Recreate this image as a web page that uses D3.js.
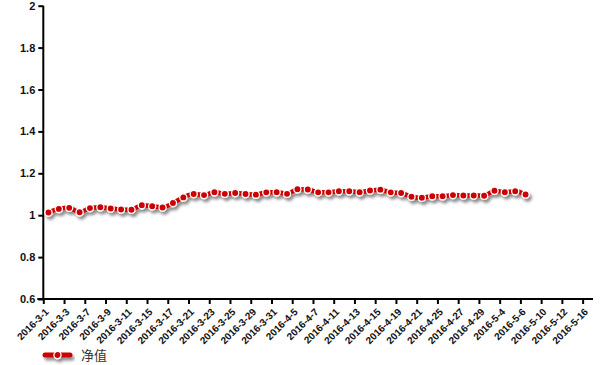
<!DOCTYPE html>
<html>
<head>
<meta charset="utf-8">
<script src="https://cdn.jsdelivr.net/npm/d3@7"></script>
<style>
  body { margin: 0; background: #fff; }
  .axis text { font-family: "Liberation Sans", Arial, sans-serif; font-weight: bold; fill: #111; }
</style>
</head>
<body>
<div class="chart-area"></div>
<script>
// trading days shown on the category axis
let dates = ["2016-3-1","2016-3-2","2016-3-3","2016-3-4","2016-3-7","2016-3-8","2016-3-9","2016-3-10","2016-3-11",
  "2016-3-14","2016-3-15","2016-3-16","2016-3-17","2016-3-18","2016-3-21","2016-3-22","2016-3-23","2016-3-24","2016-3-25",
  "2016-3-28","2016-3-29","2016-3-30","2016-3-31","2016-4-1","2016-4-5","2016-4-6","2016-4-7","2016-4-8",
  "2016-4-11","2016-4-12","2016-4-13","2016-4-14","2016-4-15","2016-4-18","2016-4-19","2016-4-20","2016-4-21","2016-4-22",
  "2016-4-25","2016-4-26","2016-4-27","2016-4-28","2016-4-29","2016-5-3","2016-5-4","2016-5-5","2016-5-6",
  "2016-5-9","2016-5-10","2016-5-11","2016-5-12","2016-5-13","2016-5-16"];

// 净值 (net value), one per trading day until 2016-5-6
let netValue = [1.013,1.030,1.035,1.014,1.034,1.038,1.032,1.027,1.026,1.048,1.043,1.037,1.058,1.085,1.101,1.096,
  1.110,1.102,1.106,1.101,1.098,1.109,1.110,1.102,1.124,1.123,1.109,1.109,1.114,1.114,1.110,1.118,1.122,1.109,
  1.106,1.088,1.083,1.091,1.091,1.096,1.094,1.094,1.093,1.117,1.110,1.114,1.099];

let yTicks = [0.6, 0.8, 1, 1.2, 1.4, 1.6, 1.8, 2];
let seriesName = "净值";

let outerWidth = 600, outerHeight = 365;
let margin = {left: 43.3, right: 593, top: 5.7, bottom: 299}; // plot edges in px

let svg = d3.select('.chart-area').append('svg')
    .attr('width', outerWidth)
    .attr('height', outerHeight);

let defs = svg.append("defs");
let shadow = defs.append("filter").attr("id", "shadow")
    .attr("x", "-20%").attr("y", "-50%").attr("width", "140%").attr("height", "300%");
shadow.append("feDropShadow")
    .attr("dx", 2).attr("dy", 3).attr("stdDeviation", 1.8)
    .attr("flood-color", "#000").attr("flood-opacity", 0.45);

let xScale = d3.scaleBand().domain(dates).range([margin.left, margin.right]);
let bw = xScale.bandwidth();
// index scale for the boundary ticks (one tick every second day)
let xIdx = d3.scaleLinear().domain([0, dates.length]).range([margin.left, margin.right]);

let yScale = d3.scaleLinear().domain([0.6, 2]).range([margin.bottom, margin.top]);

let yAxis = d3.axisLeft(yScale).tickValues(yTicks).tickSize(5).tickPadding(3).tickFormat(d3.format("~g"));
let yaxis = svg.append("g")
    .attr("class", "axis y-axis")
    .attr("transform", `translate(${margin.left},0)`)
    .call(yAxis);
yaxis.select(".domain").attr("stroke", "#000").attr("stroke-width", 2).attr("d", `M0,${margin.top}V${margin.bottom}`);
yaxis.selectAll(".tick line").attr("stroke", "#000").attr("stroke-width", 2);
yaxis.selectAll("text").attr("font-size", 11);

let tickIdx = d3.range(0, dates.length, 2);
let xAxis = d3.axisBottom(xIdx).tickValues(tickIdx).tickSize(5).tickFormat(i => dates[i]);
let xaxis = svg.append("g")
    .attr("class", "axis x-axis")
    .attr("transform", `translate(0,${margin.bottom})`)
    .call(xAxis);
xaxis.select(".domain").attr("stroke", "#000").attr("stroke-width", 2).attr("d", `M${margin.left - 6},0H${margin.right}`);
xaxis.selectAll(".tick line").attr("stroke", "#000").attr("stroke-width", 2);
xaxis.selectAll(".tick text")
    .attr("font-size", 10)
    .attr("text-anchor", "end")
    .attr("x", 0).attr("y", 0).attr("dy", "0.35em")
    .attr("transform", `translate(${bw / 2 - 2},11) rotate(-45)`);

let pts = netValue.map((v, i) => ({ date: dates[i], value: v }));

const line = d3.line()
    .x(d => xScale(d.date) + bw / 2)
    .y(d => yScale(d.value))
    .curve(d3.curveMonotoneX);

let series = svg.append("g").attr("filter", "url(#shadow)");
series.append("path")
    .datum(pts)
    .attr("fill", "none")
    .attr("stroke", "#cc0000")
    .attr("stroke-width", 4.5)
    .attr("stroke-linejoin", "round")
    .attr("stroke-linecap", "round")
    .attr("d", line);

series.selectAll("circle")
    .data(pts)
    .enter()
    .append("circle")
    .attr("cx", d => xScale(d.date) + bw / 2)
    .attr("cy", d => yScale(d.value))
    .attr("r", 3.6)
    .attr("fill", "#cc0000")
    .attr("stroke", "#fff")
    .attr("stroke-width", 1.3);

// legend
let legend = svg.append("g").attr("transform", "translate(43,355)");
let lg = legend.append("g").attr("filter", "url(#shadow)");
lg.append("line")
    .attr("x1", 2).attr("x2", 27)
    .attr("stroke", "#cc0000").attr("stroke-width", 5).attr("stroke-linecap", "round");
lg.append("circle")
    .attr("cx", 14.5).attr("r", 3.6)
    .attr("fill", "#cc0000").attr("stroke", "#fff").attr("stroke-width", 1.3);
legend.append("text")
    .attr("x", 38).attr("y", 0).attr("dy", "0.36em")
    .attr("font-family", "'Noto Sans CJK SC', sans-serif")
    .attr("font-size", 13)
    .attr("fill", "#333")
    .text(seriesName);
</script>
</body>
</html>
